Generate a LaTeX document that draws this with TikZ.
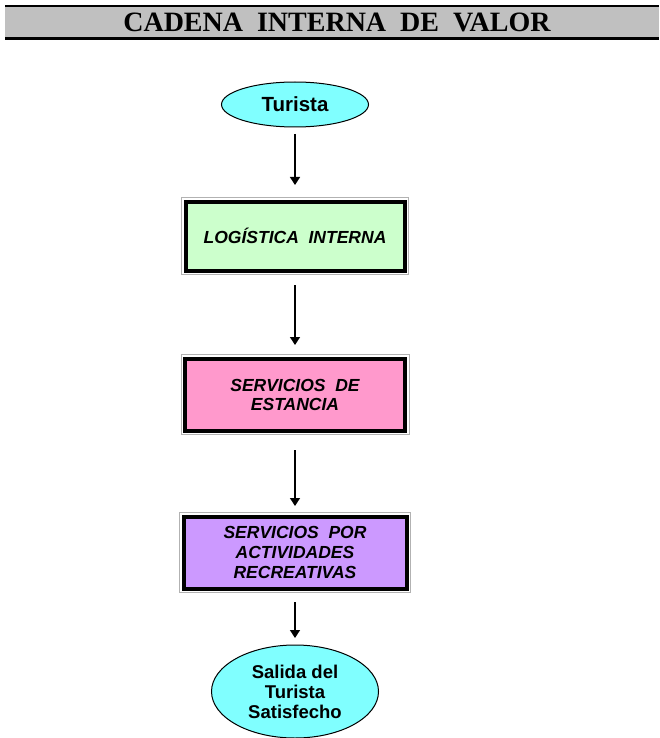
\documentclass[tikz,border=0pt]{standalone}
\usepackage{fontspec}
\setmainfont{Liberation Sans}
\newfontfamily\titlefont{Liberation Serif}
\usetikzlibrary{positioning, arrows.meta, shapes.geometric}
\definecolor{celeste}{HTML}{80FFFF}
\definecolor{verdeclaro}{HTML}{CCFFCC}
\definecolor{rosa}{HTML}{FF99CC}
\definecolor{lila}{HTML}{CC99FF}
\definecolor{gris}{HTML}{C0C0C0}
\tikzset{
  titulo/.style={rectangle, fill=gris, minimum width=654pt, minimum height=33pt, inner sep=0pt, outer sep=0pt, font=\titlefont\fontsize{28}{30}\selectfont\bfseries},
  terminal/.style={ellipse, draw=black, line width=1pt, fill=celeste, inner sep=0pt, outer sep=0pt, align=center, font=\fontsize{18.5}{20}\selectfont\bfseries},
  proceso/.style={rectangle, preaction={draw=gray!60, line width=9pt}, preaction={draw=white, line width=7pt}, draw=black, line width=4pt, outer sep=0pt, minimum width=219pt, minimum height=69pt, align=center, font=\fontsize{17.5}{19}\selectfont\bfseries\itshape},
  arrow/.style={line width=1.3pt, -{Triangle[width=10pt,length=8pt]}}
}
\begin{document}
\begin{tikzpicture}[x=1pt, y=-1pt]
        \useasboundingbox (0,0) rectangle (659,738);

        % Encabezado
        \node (titulo) [titulo] at (332,22.5) {\hspace*{10pt}CADENA\ \ INTERNA\ \ DE\ \ VALOR};
        \draw [line width=2pt] (titulo.north west) -- (titulo.north east);
        \draw [line width=3pt] (titulo.south west) -- (titulo.south east);

        % Cadena
        \node (turista) [terminal, minimum width=147pt, minimum height=45pt, font=\fontsize{20.5}{22}\selectfont\bfseries] at (295,104.5) {Turista};
        \node (logistica) [proceso, fill=verdeclaro, below=74.5pt of turista] {LOGÍSTICA\ \ INTERNA};
        \node (estancia) [proceso, fill=rosa, below=88pt of logistica, minimum width=220pt, minimum height=72pt] {SERVICIOS\ \ DE\\ESTANCIA};
        \node (recreativas) [proceso, fill=lila, below=86pt of estancia, minimum width=223pt, minimum height=72pt, font=\fontsize{17.5}{20}\selectfont\bfseries\itshape] {SERVICIOS\ \ POR\\ACTIVIDADES\\RECREATIVAS};
        \node (salida) [terminal, below=56.5pt of recreativas, minimum width=167pt, minimum height=93pt] {Salida del\\Turista\\Satisfecho};

        % Flechas
        \draw [arrow, shorten <=7pt, shorten >=16.5pt] (turista) -- (logistica);
        \draw [arrow, shorten <=14.5pt, shorten >=13.5pt] (logistica) -- (estancia);
        \draw [arrow, shorten <=19.5pt, shorten >=10.5pt] (estancia) -- (recreativas);
        \draw [arrow, shorten <=13.5pt, shorten >=7pt] (recreativas) -- (salida);

    \end{tikzpicture}
\end{document}
